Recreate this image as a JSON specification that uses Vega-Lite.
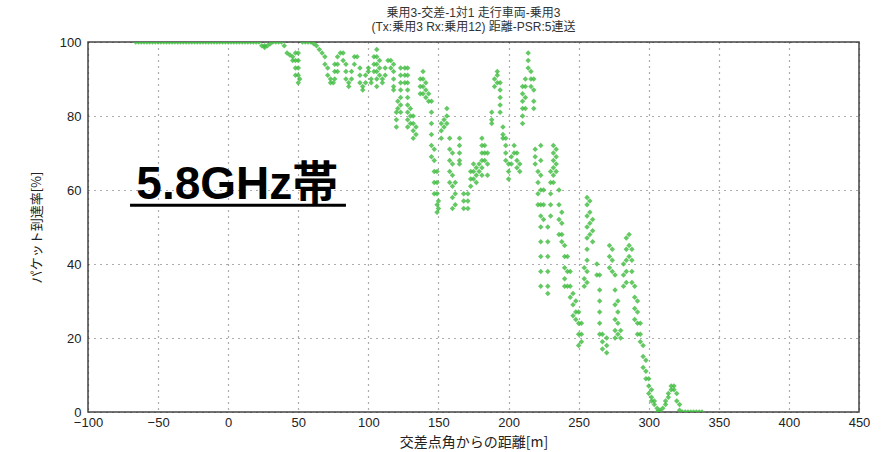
{
  "$schema": "https://vega.github.io/schema/vega-lite/v6.json",
  "width": 771,
  "height": 370,
  "autosize": "none",
  "padding": {"left": 88, "top": 42, "right": 28, "bottom": 40},
  "background": "white",
  "title": {
    "text": ["乗用3-交差-1対1 走行車両-乗用3", "(Tx:乗用3 Rx:乗用12) 距離-PSR:5連送"],
    "fontSize": 12,
    "fontWeight": "normal",
    "font": "Liberation Sans, Noto Sans CJK JP",
    "color": "#333",
    "anchor": "middle",
    "offset": 2,
    "lineHeight": 14
  },
  "config": {
    "view": {"stroke": "#444", "strokeWidth": 1.5},
    "axis": {
      "labelFont": "Liberation Sans",
      "labelFontSize": 13,
      "labelColor": "#222",
      "titleFont": "Noto Sans CJK JP",
      "titleFontWeight": "normal",
      "titleColor": "#222",
      "grid": true,
      "gridColor": "#333",
      "gridDash": [1, 5],
      "gridWidth": 1.2,
      "gridOpacity": 0.8,
      "domain": false,
      "ticks": false
    }
  },
  "layer": [
    {
      "data": {"values": [
        {"d":-66,"p":100},{"d":-64,"p":100},{"d":-62,"p":100},{"d":-60,"p":100},{"d":-58,"p":100},{"d":-56,"p":100},{"d":-54,"p":100},{"d":-52,"p":100},{"d":-50,"p":100},{"d":-48,"p":100},{"d":-46,"p":100},{"d":-44,"p":100},{"d":-42,"p":100},{"d":-40,"p":100},{"d":-38,"p":100},{"d":-36,"p":100},{"d":-34,"p":100},{"d":-32,"p":100},{"d":-30,"p":100},{"d":-28,"p":100},{"d":-26,"p":100},{"d":-24,"p":100},{"d":-22,"p":100},{"d":-20,"p":100},{"d":-18,"p":100},{"d":-16,"p":100},{"d":-14,"p":100},{"d":-12,"p":100},{"d":-10,"p":100},{"d":-8,"p":100},{"d":-6,"p":100},{"d":-4,"p":100},{"d":-2,"p":100},{"d":0,"p":100},{"d":2,"p":100},{"d":4,"p":100},{"d":6,"p":100},{"d":8,"p":100},{"d":10,"p":100},{"d":12,"p":100},{"d":14,"p":100},{"d":16,"p":100},{"d":18,"p":100},{"d":20,"p":100},{"d":22,"p":100},
        {"d":24,"p":99},{"d":26,"p":99},{"d":26,"p":98.5},{"d":28,"p":99},{"d":30,"p":99.5},{"d":32,"p":100},{"d":34,"p":100},{"d":36,"p":100},{"d":38,"p":100},{"d":40,"p":99},{"d":42,"p":97},{"d":44,"p":96.5},{"d":46,"p":96},{"d":46,"p":95},
        {"d":48,"p":97},{"d":48,"p":95},{"d":48,"p":93},{"d":48,"p":91},{"d":50,"p":97},{"d":50,"p":95},{"d":50,"p":93},{"d":50,"p":91},{"d":50,"p":89},{"d":51,"p":90},
        {"d":53,"p":100},{"d":55,"p":100},{"d":57,"p":100},{"d":59,"p":100},{"d":61,"p":99.5},{"d":63,"p":99},{"d":65,"p":98},{"d":67,"p":97},{"d":69,"p":96},{"d":69,"p":94},{"d":71,"p":93},{"d":71,"p":91},{"d":73,"p":90},{"d":73,"p":89},{"d":75,"p":89},
        {"d":76,"p":94},{"d":76,"p":92},{"d":76,"p":90},{"d":78,"p":96},{"d":78,"p":94},{"d":78,"p":92},{"d":80,"p":97},{"d":82,"p":97},{"d":82,"p":95},{"d":84,"p":94},{"d":84,"p":92},{"d":84,"p":90},{"d":86,"p":89},{"d":86,"p":88},{"d":88,"p":90},{"d":88,"p":92},{"d":90,"p":94},{"d":90,"p":96},{"d":92,"p":96},
        {"d":94,"p":93},{"d":94,"p":91},{"d":94,"p":89},{"d":96,"p":88},{"d":96,"p":87},{"d":98,"p":89},{"d":98,"p":91},{"d":100,"p":92},{"d":100,"p":93},{"d":102,"p":90},{"d":102,"p":89},{"d":104,"p":92},{"d":104,"p":94},{"d":104,"p":96},
        {"d":106,"p":98},{"d":106,"p":96},{"d":106,"p":94},{"d":106,"p":92},{"d":106,"p":90},{"d":106,"p":88},{"d":108,"p":95},{"d":108,"p":93},{"d":108,"p":91},{"d":110,"p":90},{"d":110,"p":89},{"d":112,"p":91},{"d":112,"p":93},{"d":114,"p":95},{"d":116,"p":95},{"d":116,"p":93},
        {"d":118,"p":94},{"d":118,"p":92},{"d":118,"p":90},{"d":118,"p":88},{"d":118,"p":87},{"d":120,"p":81},{"d":120,"p":79},{"d":120,"p":77},{"d":121,"p":84},{"d":121,"p":82},
        {"d":123,"p":93},{"d":123,"p":91},{"d":123,"p":89},{"d":123,"p":87},{"d":123,"p":85},{"d":123,"p":83},{"d":123,"p":81},{"d":126,"p":93},{"d":126,"p":91},{"d":126,"p":89},
        {"d":128,"p":93},{"d":128,"p":91},{"d":128,"p":89},{"d":128,"p":87},{"d":128,"p":85},{"d":128,"p":83},{"d":128,"p":81},{"d":128,"p":79},{"d":128,"p":77},
        {"d":130,"p":82},{"d":130,"p":80},{"d":130,"p":78},{"d":132,"p":80},{"d":132,"p":78},{"d":132,"p":76},{"d":132,"p":74},{"d":134,"p":77},{"d":134,"p":75},
        {"d":137,"p":90},{"d":137,"p":88},{"d":137,"p":86},{"d":139,"p":92},{"d":139,"p":90},{"d":139,"p":88},{"d":139,"p":86},{"d":141,"p":89},{"d":141,"p":87},{"d":141,"p":85},{"d":143,"p":86},{"d":143,"p":84},
        {"d":145,"p":84},{"d":145,"p":81},{"d":145,"p":78},{"d":145,"p":75},{"d":145,"p":72},{"d":145,"p":69},{"d":147,"p":71},{"d":147,"p":68},{"d":147,"p":65},{"d":147,"p":62},{"d":147,"p":59},
        {"d":149,"p":65},{"d":149,"p":62},{"d":149,"p":59},{"d":149,"p":56},{"d":149,"p":54},{"d":150,"p":57},{"d":150,"p":55},
        {"d":152,"p":78},{"d":152,"p":76},{"d":152,"p":74},{"d":154,"p":79},{"d":154,"p":77},{"d":156,"p":82},{"d":156,"p":80},{"d":156,"p":78},
        {"d":158,"p":74},{"d":158,"p":71},{"d":158,"p":68},{"d":158,"p":65},{"d":158,"p":62},{"d":160,"p":70},{"d":160,"p":67},{"d":160,"p":64},{"d":160,"p":61},{"d":160,"p":58},{"d":160,"p":55},{"d":162,"p":62},{"d":162,"p":59},{"d":162,"p":56},
        {"d":165,"p":74},{"d":165,"p":72},{"d":165,"p":70},{"d":165,"p":68},{"d":165,"p":67},{"d":168,"p":59},{"d":168,"p":57},{"d":168,"p":55},{"d":171,"p":59},{"d":171,"p":57},{"d":171,"p":55},
        {"d":173,"p":65},{"d":173,"p":63},{"d":173,"p":61},{"d":175,"p":67},{"d":175,"p":65},{"d":175,"p":63},{"d":177,"p":66},{"d":177,"p":64},{"d":177,"p":62},{"d":179,"p":67},{"d":179,"p":65},
        {"d":181,"p":74},{"d":181,"p":72},{"d":181,"p":70},{"d":181,"p":68},{"d":181,"p":66},{"d":181,"p":64},{"d":183,"p":72},{"d":183,"p":70},{"d":183,"p":68},{"d":185,"p":70},{"d":185,"p":67},{"d":185,"p":64},
        {"d":188,"p":81},{"d":188,"p":79},{"d":188,"p":78},{"d":190,"p":90},{"d":190,"p":88},{"d":192,"p":92},{"d":192,"p":91},{"d":192,"p":89},
        {"d":194,"p":89},{"d":194,"p":87},{"d":194,"p":85},{"d":194,"p":83},{"d":194,"p":81},{"d":196,"p":77},{"d":196,"p":75},{"d":196,"p":74},
        {"d":198,"p":74},{"d":198,"p":72},{"d":198,"p":70},{"d":198,"p":68},{"d":200,"p":67},{"d":200,"p":65},{"d":200,"p":63},{"d":202,"p":69},{"d":202,"p":67},{"d":204,"p":72},{"d":204,"p":70},
        {"d":206,"p":70},{"d":206,"p":68},{"d":206,"p":66},{"d":208,"p":67},{"d":208,"p":65},
        {"d":210,"p":88},{"d":210,"p":86},{"d":210,"p":84},{"d":210,"p":82},{"d":210,"p":80},{"d":210,"p":78},{"d":212,"p":90},{"d":212,"p":88},{"d":212,"p":85},{"d":212,"p":82},
        {"d":214,"p":97},{"d":214,"p":95},{"d":214,"p":93},{"d":216,"p":92},{"d":216,"p":90},{"d":216,"p":88},{"d":218,"p":90},{"d":218,"p":87},{"d":218,"p":84},{"d":218,"p":82},
        {"d":219,"p":71},{"d":219,"p":69},{"d":219,"p":67},{"d":221,"p":65},{"d":221,"p":62},{"d":221,"p":59},{"d":221,"p":56},
        {"d":223,"p":72},{"d":223,"p":68},{"d":223,"p":64},{"d":223,"p":60},{"d":223,"p":56},{"d":223,"p":53},{"d":223,"p":50},{"d":223,"p":46},{"d":223,"p":42},{"d":223,"p":38},{"d":223,"p":34},
        {"d":225,"p":60},{"d":225,"p":56},{"d":225,"p":52},{"d":228,"p":50},{"d":228,"p":46},{"d":228,"p":42},{"d":228,"p":38},{"d":228,"p":34},{"d":228,"p":32},
        {"d":230,"p":65},{"d":230,"p":62},{"d":230,"p":59},{"d":230,"p":56},{"d":230,"p":53},{"d":232,"p":72},{"d":232,"p":70},{"d":232,"p":68},{"d":232,"p":66},{"d":232,"p":64},{"d":232,"p":62},
        {"d":234,"p":71},{"d":234,"p":69},{"d":234,"p":67},{"d":234,"p":65},{"d":236,"p":60},{"d":236,"p":56},{"d":236,"p":52},{"d":236,"p":48},{"d":238,"p":54},{"d":238,"p":51},{"d":238,"p":48},{"d":238,"p":46},
        {"d":240,"p":45},{"d":240,"p":42},{"d":240,"p":39},{"d":240,"p":36},{"d":240,"p":34},{"d":242,"p":42},{"d":242,"p":38},{"d":242,"p":34},{"d":244,"p":38},{"d":244,"p":34},{"d":244,"p":31},
        {"d":246,"p":32},{"d":246,"p":29},{"d":246,"p":26},{"d":248,"p":30},{"d":248,"p":27},{"d":248,"p":25},{"d":250,"p":27},{"d":250,"p":24},{"d":250,"p":21},{"d":250,"p":18},{"d":252,"p":24},{"d":252,"p":21},{"d":252,"p":19},
        {"d":254,"p":39},{"d":254,"p":36},{"d":254,"p":34},
        {"d":256,"p":58},{"d":256,"p":56},{"d":256,"p":53},{"d":256,"p":50},{"d":256,"p":47},{"d":256,"p":44},{"d":256,"p":41},{"d":256,"p":38},{"d":256,"p":35},
        {"d":258,"p":57},{"d":258,"p":54},{"d":258,"p":51},{"d":258,"p":48},{"d":260,"p":52},{"d":260,"p":49},{"d":260,"p":46},{"d":263,"p":40},{"d":263,"p":37},
        {"d":265,"p":37},{"d":265,"p":33},{"d":265,"p":30},{"d":265,"p":27},{"d":265,"p":24},{"d":265,"p":21},{"d":267,"p":21},{"d":267,"p":19},{"d":267,"p":17},{"d":270,"p":20},{"d":270,"p":18},{"d":270,"p":16},
        {"d":272,"p":45},{"d":272,"p":42},{"d":272,"p":39},{"d":274,"p":44},{"d":274,"p":41},{"d":274,"p":38},
        {"d":276,"p":37},{"d":276,"p":33},{"d":276,"p":29},{"d":276,"p":25},{"d":276,"p":22},{"d":276,"p":20},{"d":278,"p":30},{"d":278,"p":27},{"d":278,"p":24},{"d":278,"p":21},{"d":280,"p":22},{"d":280,"p":20},
        {"d":282,"p":40},{"d":282,"p":37},{"d":282,"p":34},{"d":284,"p":47},{"d":284,"p":44},{"d":284,"p":41},{"d":284,"p":38},{"d":284,"p":35},{"d":286,"p":48},{"d":286,"p":45},{"d":286,"p":42},
        {"d":288,"p":44},{"d":288,"p":41},{"d":288,"p":38},{"d":288,"p":35},{"d":290,"p":34},{"d":290,"p":31},{"d":290,"p":28},{"d":290,"p":25},
        {"d":292,"p":30},{"d":292,"p":27},{"d":292,"p":24},{"d":292,"p":21},{"d":294,"p":24},{"d":294,"p":21},{"d":294,"p":19},
        {"d":296,"p":18},{"d":296,"p":15},{"d":296,"p":12},{"d":298,"p":14},{"d":298,"p":11},{"d":298,"p":9},{"d":300,"p":9},{"d":300,"p":7},{"d":300,"p":5},{"d":302,"p":6},{"d":302,"p":4},{"d":302,"p":3},
        {"d":304,"p":3},{"d":304,"p":2},{"d":306,"p":1},{"d":306,"p":0},{"d":308,"p":0.5},{"d":308,"p":0},{"d":310,"p":1},{"d":312,"p":2},{"d":312,"p":3},{"d":314,"p":4},{"d":314,"p":5},{"d":316,"p":6},{"d":316,"p":7},{"d":318,"p":7},{"d":318,"p":6},
        {"d":320,"p":5},{"d":320,"p":3},{"d":322,"p":2},{"d":322,"p":0.5},{"d":324,"p":0},{"d":326,"p":0},{"d":328,"p":0},{"d":330,"p":0},{"d":332,"p":0},{"d":334,"p":0},{"d":336,"p":0},{"d":338,"p":0}
      ]},
      "mark": {"type": "point", "shape": "diamond", "filled": true, "size": 30, "color": "#3dbb3d", "opacity": 0.8, "clip": true},
      "encoding": {
        "x": {
          "field": "d", "type": "quantitative",
          "scale": {"domain": [-100, 450], "nice": false, "zero": false},
          "axis": {"values": [-100, -50, 0, 50, 100, 150, 200, 250, 300, 350, 400, 450], "title": "交差点角からの距離[m]", "titleFontSize": 14, "titlePadding": 6, "labelPadding": 4, "labelFlush": false}
        },
        "y": {
          "field": "p", "type": "quantitative",
          "scale": {"domain": [0, 100], "nice": false},
          "axis": {"values": [0, 10, 20, 30, 40, 50, 60, 70, 80, 90, 100], "title": "パケット到達率[%]", "titleFontSize": 13, "titlePadding": 16, "labelPadding": 7}
        }
      }
    },
    {
      "data": {"values": [{"d": 6.5, "p": 57.6, "t": "5.8GHz帯"}]},
      "mark": {"type": "text", "font": "Liberation Sans, Noto Sans CJK JP", "fontSize": 46, "fontWeight": "bold", "color": "#000", "baseline": "alphabetic", "align": "center"},
      "encoding": {
        "x": {"field": "d", "type": "quantitative"},
        "y": {"field": "p", "type": "quantitative"},
        "text": {"field": "t"}
      }
    },
    {
      "data": {"values": [{"x1": -70, "x2": 84, "p": 55.9}]},
      "mark": {"type": "rule", "color": "#000", "strokeWidth": 3},
      "encoding": {
        "x": {"field": "x1", "type": "quantitative"},
        "x2": {"field": "x2"},
        "y": {"field": "p", "type": "quantitative"}
      }
    }
  ]
}
